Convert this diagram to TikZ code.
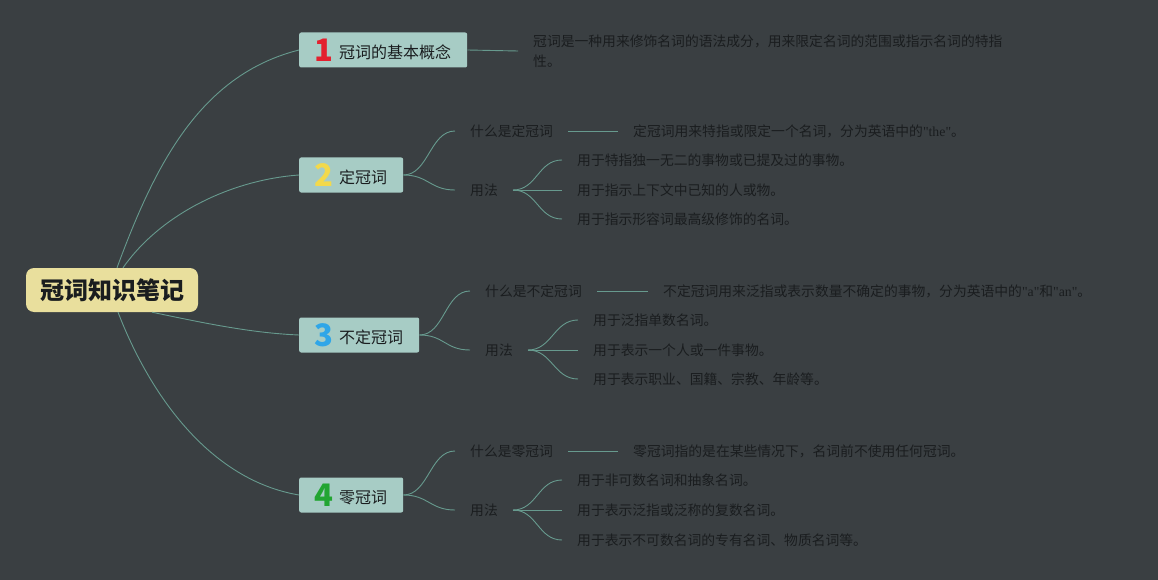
\documentclass[tikz,border=0pt]{standalone}
\usepackage{fontspec}
\setmainfont{Noto Sans CJK SC}
\newfontfamily\latin{Liberation Serif}
\definecolor{paper}{HTML}{3A3F42}
\definecolor{ink}{HTML}{1A1D1F}
\definecolor{sand}{HTML}{E9DF9D}
\definecolor{sage}{HTML}{A7CCC5}
\definecolor{moss}{HTML}{679A8E}
\definecolor{numred}{HTML}{E3202E}
\definecolor{numyellow}{HTML}{F3D94B}
\definecolor{numblue}{HTML}{2FA6E8}
\definecolor{numgreen}{HTML}{22A532}
\newcommand{\badge}[2]{\makebox[18pt]{\raisebox{-3pt}{\fontsize{31}{31}\selectfont\bfseries\color{#1}#2}}\hspace{6pt}}

\begin{document}
\begin{tikzpicture}[x=1pt,y=-1pt,
  every node/.style={text=ink,font=\fontsize{13.8}{20}\selectfont},
  root/.style={fill=sand,rounded corners=8pt,minimum width=172pt,minimum height=44pt,font=\fontsize{24}{24}\selectfont\bfseries},
  topic/.style={fill=sage,rounded corners=2pt,minimum height=35pt,inner xsep=16pt,inner ysep=0pt,anchor=west,font=\fontsize{16}{16}\selectfont},
  leaf/.style={inner xsep=15pt,inner ysep=0pt,anchor=west,align=left},
  wire/.style={draw=moss,line width=0.9pt}]
  \fill[paper] (0,0) rectangle (1158,580);
  % centre
  \node[root] (root) at (112,290) {冠词知识笔记};
  % main branches
  \node[topic] (t1) at (299,50) {\badge{numred}{1}冠词的基本概念};
  \node[topic] (t2) at (299,175) {\badge{numyellow}{2}定冠词};
  \node[topic] (t3) at (299,335) {\badge{numblue}{3}不定冠词};
  \node[topic] (t4) at (299,495) {\badge{numgreen}{4}零冠词};
  \draw[wire] ([xshift=5pt]root.north) .. controls +(38,-103) and +(-99,25) .. (t1.west);
  \draw[wire] ([xshift=11pt]root.north) .. controls +(37,-53) and +(-69,5) .. (t2.west);
  \draw[wire] ([xshift=40pt]root.south) .. controls +(48,10) and +(-49,-2) .. (t3.west);
  \draw[wire] ([xshift=6pt]root.south) .. controls +(32,83) and +(-89,-15) .. (t4.west);
  % 1
  \node[leaf] (c1) at (518,51) {冠词是一种用来修饰名词的语法成分，用来限定名词的范围或指示名词的特指\\性。};
  \draw[wire] (t1.east) -- (c1.west);
  % 2
  \node[leaf] (q2) at (455,131) {什么是定冠词};
  \node[leaf] (d2) at (618,131) {定冠词用来特指或限定一个名词，分为英语中的{\latin"the"}。};
  \node[leaf] (u2) at (455,190) {用法};
  \node[leaf] (l21) at (562,160) {用于特指独一无二的事物或已提及过的事物。};
  \node[leaf] (l22) at (562,190) {用于指示上下文中已知的人或物。};
  \node[leaf] (l23) at (562,219) {用于指示形容词最高级修饰的名词。};
  \draw[wire] (t2.east) .. controls +(25,0) and +(-25,0) .. (q2.west);
  \draw[wire] (t2.east) .. controls +(25,0) and +(-25,0) .. (u2.west);
  \draw[wire] (q2.east) -- (d2.west);
  \draw[wire] (u2.east) .. controls +(24,0) and +(-24,0) .. (l21.west);
  \draw[wire] (u2.east) -- (l22.west);
  \draw[wire] (u2.east) .. controls +(24,0) and +(-24,0) .. (l23.west);
  % 3
  \node[leaf] (q3) at (470,291) {什么是不定冠词};
  \node[leaf] (d3) at (648,291) {不定冠词用来泛指或表示数量不确定的事物，分为英语中的{\latin"a"}和{\latin"an"}。};
  \node[leaf] (u3) at (470,350) {用法};
  \node[leaf] (l31) at (578,320) {用于泛指单数名词。};
  \node[leaf] (l32) at (578,350) {用于表示一个人或一件事物。};
  \node[leaf] (l33) at (578,379) {用于表示职业、国籍、宗教、年龄等。};
  \draw[wire] (t3.east) .. controls +(25,0) and +(-25,0) .. (q3.west);
  \draw[wire] (t3.east) .. controls +(25,0) and +(-25,0) .. (u3.west);
  \draw[wire] (q3.east) -- (d3.west);
  \draw[wire] (u3.east) .. controls +(24,0) and +(-24,0) .. (l31.west);
  \draw[wire] (u3.east) -- (l32.west);
  \draw[wire] (u3.east) .. controls +(24,0) and +(-24,0) .. (l33.west);
  % 4
  \node[leaf] (q4) at (455,451) {什么是零冠词};
  \node[leaf] (d4) at (618,451) {零冠词指的是在某些情况下，名词前不使用任何冠词。};
  \node[leaf] (u4) at (455,510) {用法};
  \node[leaf] (l41) at (562,480) {用于非可数名词和抽象名词。};
  \node[leaf] (l42) at (562,510) {用于表示泛指或泛称的复数名词。};
  \node[leaf] (l43) at (562,540) {用于表示不可数名词的专有名词、物质名词等。};
  \draw[wire] (t4.east) .. controls +(25,0) and +(-25,0) .. (q4.west);
  \draw[wire] (t4.east) .. controls +(25,0) and +(-25,0) .. (u4.west);
  \draw[wire] (q4.east) -- (d4.west);
  \draw[wire] (u4.east) .. controls +(24,0) and +(-24,0) .. (l41.west);
  \draw[wire] (u4.east) -- (l42.west);
  \draw[wire] (u4.east) .. controls +(24,0) and +(-24,0) .. (l43.west);
\end{tikzpicture}
\end{document}
